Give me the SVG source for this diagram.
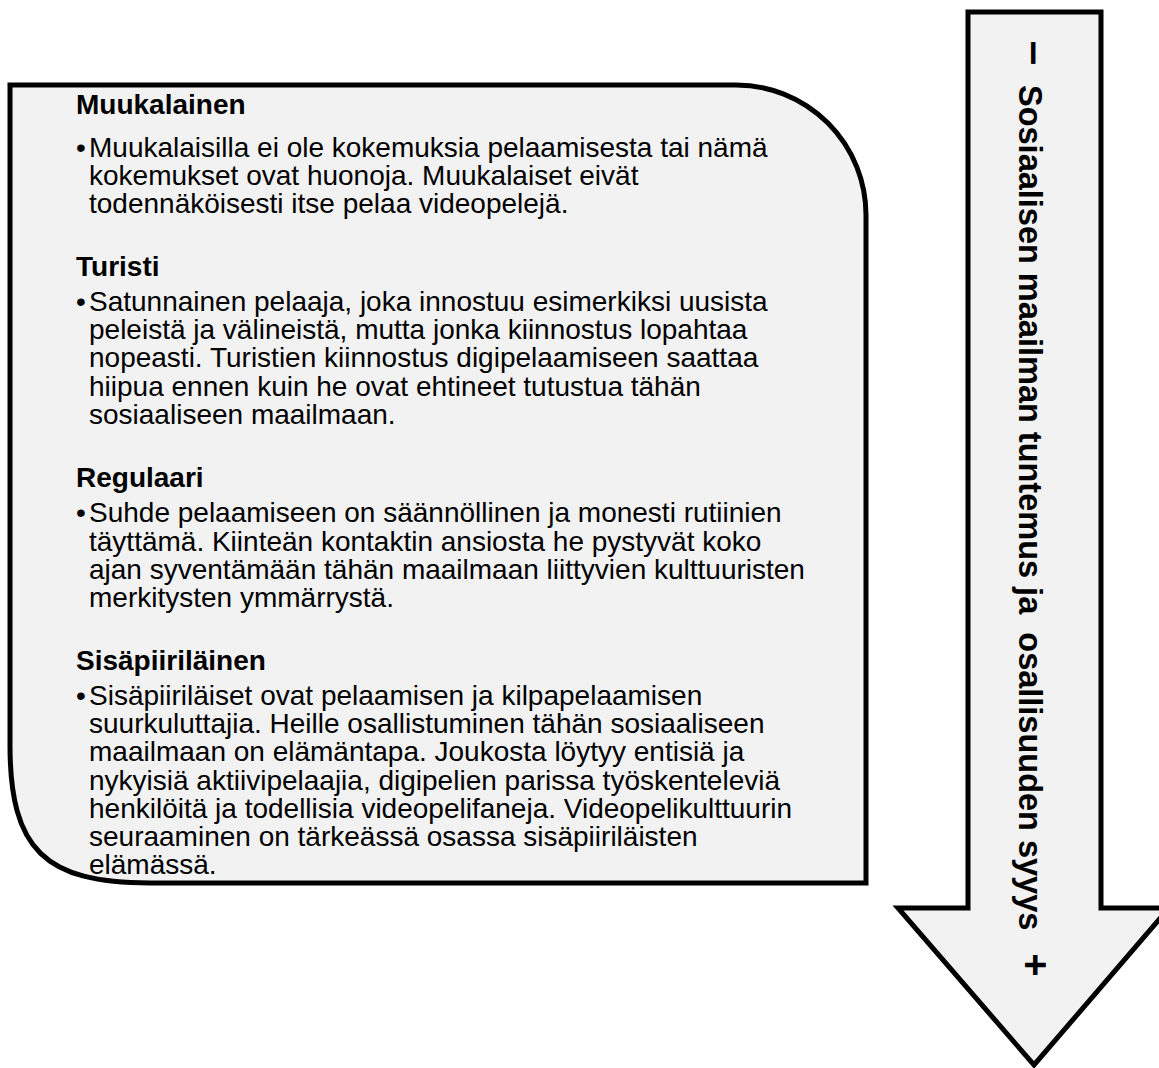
<svg xmlns="http://www.w3.org/2000/svg" width="1159" height="1068" viewBox="0 0 1159 1068">
<style>
.shape{fill:#f2f2f2;stroke:#000;stroke-width:5;stroke-linejoin:miter}
text{font-family:"Liberation Sans",Arial,sans-serif;fill:#000}
.h{font-size:28px;font-weight:bold}
.b{font-size:28px}
.a{font-size:32.5px;font-weight:bold}
.s{font-size:44px;font-weight:bold}
.p{font-size:40px;font-weight:bold}
</style>
<rect width="1159" height="1068" fill="#fff"/>
<g id="box">
<path class="shape" d="M10,85 H736 A130,130 0 0 1 866,215 V883 H150 C45,883 10,850 10,745 Z"/>
<text class="h" x="76" y="114">Muukalainen</text>
<text class="b" x="76" y="157">•</text>
<text class="b" x="89" y="157">Muukalaisilla ei ole kokemuksia pelaamisesta tai nämä</text>
<text class="b" x="89" y="185">kokemukset ovat huonoja. Muukalaiset eivät</text>
<text class="b" x="89" y="213">todennäköisesti itse pelaa videopelejä.</text>
<text class="h" x="76" y="276">Turisti</text>
<text class="b" x="76" y="311">•</text>
<text class="b" x="89" y="311">Satunnainen pelaaja, joka innostuu esimerkiksi uusista</text>
<text class="b" x="89" y="339">peleistä ja välineistä, mutta jonka kiinnostus lopahtaa</text>
<text class="b" x="89" y="367">nopeasti. Turistien kiinnostus digipelaamiseen saattaa</text>
<text class="b" x="89" y="396">hiipua ennen kuin he ovat ehtineet tutustua tähän</text>
<text class="b" x="89" y="424">sosiaaliseen maailmaan.</text>
<text class="h" x="76" y="487">Regulaari</text>
<text class="b" x="76" y="522">•</text>
<text class="b" x="89" y="522">Suhde pelaamiseen on säännöllinen ja monesti rutiinien</text>
<text class="b" x="89" y="551">täyttämä. Kiinteän kontaktin ansiosta he pystyvät koko</text>
<text class="b" x="89" y="579">ajan syventämään tähän maailmaan liittyvien kulttuuristen</text>
<text class="b" x="89" y="607">merkitysten ymmärrystä.</text>
<text class="h" x="76" y="670">Sisäpiiriläinen</text>
<text class="b" x="76" y="705">•</text>
<text class="b" x="89" y="705">Sisäpiiriläiset ovat pelaamisen ja kilpapelaamisen</text>
<text class="b" x="89" y="733">suurkuluttajia. Heille osallistuminen tähän sosiaaliseen</text>
<text class="b" x="89" y="761">maailmaan on elämäntapa. Joukosta löytyy entisiä ja</text>
<text class="b" x="89" y="790">nykyisiä aktiivipelaajia, digipelien parissa työskenteleviä</text>
<text class="b" x="89" y="818">henkilöitä ja todellisia videopelifaneja. Videopelikulttuurin</text>
<text class="b" x="89" y="846">seuraaminen on tärkeässä osassa sisäpiiriläisten</text>
<text class="b" x="89" y="874">elämässä.</text>
</g>
<g id="arrow">
<polygon class="shape" points="968,12 1101,12 1101,908 1169,908 1034,1065 898,908 968,908"/>
<text class="s" transform="translate(1021,53) rotate(90)" text-anchor="middle">–</text>
<text class="a" xml:space="preserve" transform="translate(1019,85) rotate(90)">Sosiaalisen maailman tuntemus ja  osallisuuden syyys</text>
<text class="p" transform="translate(1022,965) rotate(90)" text-anchor="middle">+</text>
</g>
<g id="connectors"></g>
</svg>
